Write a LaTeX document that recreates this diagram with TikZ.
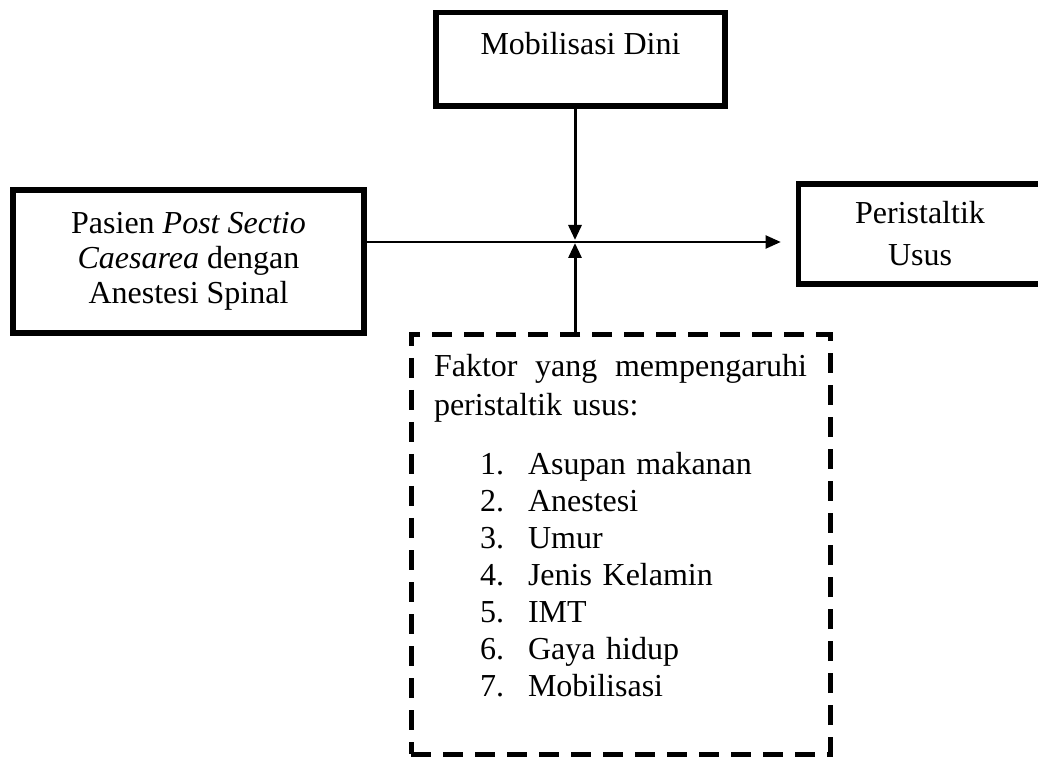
\documentclass[tikz,border=0pt]{standalone}
\usepackage{fontspec}
\setmainfont{Liberation Serif}
\usetikzlibrary{arrows.meta}

\begin{document}
\begin{tikzpicture}[x=0.5pt,y=-0.5pt,
    box/.style={draw,line width=2.8pt,rectangle,inner sep=0pt,
      font=\fontsize{16pt}{17.5pt}\selectfont},
    dashbox/.style={draw,line width=2.5pt,dash pattern=on 10pt off 6pt,rectangle,
      inner sep=0pt,align=left,font=\fontsize{16pt}{18.5pt}\selectfont},
    link/.style={line width=1pt,>={Triangle[length=7.5pt,width=6.5pt]}}]
  \useasboundingbox (0,0) rectangle (1038,758);

  \node[box,anchor=base,minimum width=144.5pt,text height=21.25pt,text depth=25.5pt]
    (mobilisasi) at (580.5,55) {Mobilisasi Dini};
  \node[box,align=center,minimum width=175.5pt,minimum height=71.5pt]
    (pasien) at (188.5,261.5) {Pasien \textit{Post Sectio}\\\textit{Caesarea} dengan\\Anestesi Spinal};
  \node[box,align=center,minimum width=121.5pt,minimum height=50pt,
    font=\fontsize{16pt}{21pt}\selectfont]
    (peristaltik) at (920,234) {Peristaltik\\Usus};
  \node[dashbox,anchor=base,text width=186.5pt,minimum width=209.5pt,
    text height=21pt,text depth=188.5pt] (faktor) at (620.5,377)
    {\makebox[186.5pt][s]{Faktor\hfill yang\hfill mempengaruhi}\\[1pt]
     peristaltik usus:\\[11pt]
     \hspace*{23pt}\makebox[24pt][l]{1.}Asupan makanan\\
     \hspace*{23pt}\makebox[24pt][l]{2.}Anestesi\\
     \hspace*{23pt}\makebox[24pt][l]{3.}Umur\\
     \hspace*{23pt}\makebox[24pt][l]{4.}Jenis Kelamin\\
     \hspace*{23pt}\makebox[24pt][l]{5.}IMT\\
     \hspace*{23pt}\makebox[24pt][l]{6.}Gaya hidup\\
     \hspace*{23pt}\makebox[24pt][l]{7.}Mobilisasi};

  \coordinate (jn) at (575,242);

  % arrows:
  \begin{scope}[link]
    \draw (pasien.east |- jn) edge[->,shorten >=7.5pt] (peristaltik.west |- jn);
    \draw (mobilisasi.south -| jn) edge[->,line width=1.5pt,shorten >=1pt] (jn);
    \draw (faktor.north -| jn) edge[->,line width=1.5pt,shorten >=0.5pt] (jn);
  \end{scope}
\end{tikzpicture}
\end{document}
